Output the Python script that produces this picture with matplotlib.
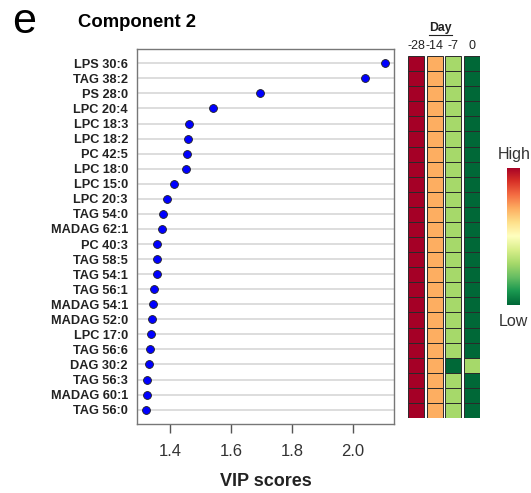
import numpy as np
import matplotlib
matplotlib.use("Agg")
import matplotlib.pyplot as plt
from matplotlib.patches import Rectangle

plt.rcParams['font.family'] = ['Liberation Sans', 'DejaVu Sans']

# lipids in plot order (top to bottom)
lipids = ["LPS 30:6", "TAG 38:2", "PS 28:0", "LPC 20:4", "LPC 18:3", "LPC 18:2",
          "PC 42:5", "LPC 18:0", "LPC 15:0", "LPC 20:3", "TAG 54:0", "MADAG 62:1",
          "PC 40:3", "TAG 58:5", "TAG 54:1", "TAG 56:1", "MADAG 54:1", "MADAG 52:0",
          "LPC 17:0", "TAG 56:6", "DAG 30:2", "TAG 56:3", "MADAG 60:1", "TAG 56:0"]
vip = [2.107, 2.041, 1.694, 1.542, 1.462, 1.458, 1.454, 1.452, 1.413, 1.389,
       1.378, 1.374, 1.356, 1.358, 1.356, 1.347, 1.343, 1.341, 1.336, 1.333,
       1.331, 1.324, 1.324, 1.321]

days = ["-28", "-14", "-7", "0"]
# relative level per day (4 = high, 1 = low)
day_m28 = [4] * 24
day_m14 = [3] * 24
day_m7 = [2] * 20 + [1] + [2] * 3
day_0 = [1] * 20 + [2] + [1] * 3

level_colors = {4: "#A50026", 3: "#FDAE61", 2: "#A6D96A", 1: "#006837"}

fig = plt.figure(figsize=(5.31, 4.93), dpi=100)

# --- VIP dot plot
ax = fig.add_axes([0.258, 0.140, 0.484, 0.7606])
n = len(lipids)
ypos = np.arange(n)
for y in ypos:
    ax.axhline(y, color="#DDDDDD", lw=1.4, zorder=0)
ax.scatter(vip, ypos, s=32, color="#0000FF", edgecolor="#202020", linewidth=0.6, zorder=3)
ax.set_xlim(1.291, 2.136)
ax.set_ylim(n - 1 + 0.95, -0.95)
ax.set_yticks(ypos)
ax.set_yticklabels(lipids, fontsize=9.2, fontweight="bold", color="#222222")
ax.tick_params(axis="y", length=0, pad=6.5)
ax.set_xticks([1.4, 1.6, 1.8, 2.0])
ax.set_xticklabels(["1.4", "1.6", "1.8", "2.0"], fontsize=12, color="#333333")
ax.tick_params(axis="x", length=6.5, width=1, color="#555555", pad=8, direction="out")
ax.set_xlabel("VIP scores", fontsize=13, fontweight="bold", color="#222222", labelpad=10)
for s in ax.spines.values():
    s.set_color("#777777")
    s.set_linewidth(1.0)

fig.text(0.022, 0.955, "e", fontsize=31, va="center", ha="left")
fig.text(0.147, 0.955, "Component 2", fontsize=13.3, fontweight="bold", va="center", ha="left")

# --- heatmap of day levels
hx = fig.add_axes([0.7684, 0.1521, 0.1356, 0.7343])
cols = [day_m28, day_m14, day_m7, day_0]
for j, col in enumerate(cols):
    for i, lvl in enumerate(col):
        hx.add_patch(Rectangle((j * 1.16, i), 1.0, 1.0, facecolor=level_colors[lvl],
                               edgecolor="#2a2a2a", linewidth=0.7))
hx.set_xlim(0, 3 * 1.16 + 1.0)
hx.set_ylim(n, 0)
hx.axis("off")
for j, d in enumerate(days):
    hx.text(j * 1.16 + 0.5, -0.65, d, ha="center", va="center", fontsize=9, color="#222222")
hx.text(2.02, -1.88, "Day", ha="center", va="center", fontsize=8.8, fontweight="bold",
        color="#222222")
hx.plot([1.31, 2.74], [-1.42, -1.42], color="#222222", lw=0.8, clip_on=False)

# --- colour key
cx = fig.add_axes([0.9542, 0.3813, 0.0231, 0.278])
grad = np.linspace(1, 0, 256).reshape(-1, 1)
cx.imshow(grad, aspect="auto", cmap="RdYlGn_r", extent=[0, 1, 0, 1])
cx.axis("off")
fig.text(0.968, 1 - 155 / 493, "High", ha="center", va="center", fontsize=11.5, color="#333333")
fig.text(0.966, 1 - 321 / 493, "Low", ha="center", va="center", fontsize=11.5, color="#333333")

fig.savefig("out.png", dpi=100)
